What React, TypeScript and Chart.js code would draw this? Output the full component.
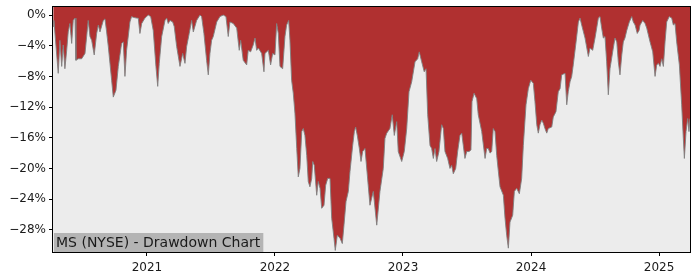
import React, { useEffect, useRef } from "react";
import { Chart, registerables } from "chart.js";

Chart.register(...registerables);

// Dates as decimal years (2021.0 = 1 Jan 2021)
const dateYears: number[] = [
  2020.268, 2020.273, 2020.307, 2020.320, 2020.334, 2020.346, 2020.359, 2020.373, 2020.385, 2020.398,
  2020.412, 2020.424, 2020.438, 2020.445, 2020.463, 2020.490, 2020.516, 2020.541, 2020.555, 2020.568,
  2020.588, 2020.607, 2020.620, 2020.633, 2020.659, 2020.672, 2020.685, 2020.698, 2020.724, 2020.737,
  2020.758, 2020.776, 2020.802, 2020.815, 2020.828, 2020.841, 2020.867, 2020.880, 2020.893, 2020.920,
  2020.932, 2020.945, 2020.959, 2020.984, 2021.010, 2021.029, 2021.049, 2021.070, 2021.084, 2021.096,
  2021.115, 2021.141, 2021.154, 2021.166, 2021.180, 2021.201, 2021.213, 2021.232, 2021.258, 2021.279,
  2021.297, 2021.310, 2021.330, 2021.349, 2021.362, 2021.388, 2021.414, 2021.427, 2021.445, 2021.466,
  2021.479, 2021.492, 2021.505, 2021.518, 2021.545, 2021.570, 2021.596, 2021.617, 2021.635, 2021.648,
  2021.674, 2021.701, 2021.721, 2021.732, 2021.752, 2021.779, 2021.791, 2021.810, 2021.830, 2021.844,
  2021.857, 2021.870, 2021.896, 2021.914, 2021.922, 2021.948, 2021.966, 2021.982, 2022.000, 2022.013,
  2022.026, 2022.039, 2022.060, 2022.078, 2022.091, 2022.107, 2022.117, 2022.130, 2022.143, 2022.156,
  2022.170, 2022.182, 2022.195, 2022.209, 2022.221, 2022.234, 2022.248, 2022.260, 2022.273, 2022.287,
  2022.295, 2022.307, 2022.326, 2022.338, 2022.352, 2022.365, 2022.383, 2022.396, 2022.412, 2022.430,
  2022.443, 2022.461, 2022.471, 2022.487, 2022.508, 2022.526, 2022.539, 2022.555, 2022.573, 2022.586,
  2022.607, 2022.620, 2022.630, 2022.643, 2022.659, 2022.672, 2022.685, 2022.703, 2022.742, 2022.768,
  2022.795, 2022.820, 2022.846, 2022.859, 2022.873, 2022.898, 2022.916, 2022.932, 2022.951, 2022.963,
  2022.990, 2023.010, 2023.029, 2023.047, 2023.068, 2023.094, 2023.115, 2023.127, 2023.146, 2023.166,
  2023.180, 2023.193, 2023.211, 2023.224, 2023.237, 2023.250, 2023.263, 2023.281, 2023.302, 2023.315,
  2023.328, 2023.349, 2023.367, 2023.380, 2023.393, 2023.412, 2023.427, 2023.445, 2023.459, 2023.471,
  2023.484, 2023.498, 2023.516, 2023.531, 2023.539, 2023.555, 2023.576, 2023.588, 2023.615, 2023.641,
  2023.654, 2023.666, 2023.680, 2023.693, 2023.705, 2023.719, 2023.732, 2023.745, 2023.758, 2023.784,
  2023.797, 2023.810, 2023.823, 2023.836, 2023.857, 2023.870, 2023.888, 2023.909, 2023.927, 2023.940,
  2023.961, 2023.979, 2023.998, 2024.018, 2024.031, 2024.045, 2024.057, 2024.070, 2024.084, 2024.096,
  2024.109, 2024.123, 2024.135, 2024.162, 2024.174, 2024.195, 2024.213, 2024.227, 2024.240, 2024.266,
  2024.279, 2024.291, 2024.305, 2024.318, 2024.330, 2024.352, 2024.370, 2024.383, 2024.396, 2024.422,
  2024.448, 2024.461, 2024.482, 2024.500, 2024.526, 2024.539, 2024.552, 2024.565, 2024.578, 2024.591,
  2024.604, 2024.617, 2024.638, 2024.656, 2024.670, 2024.682, 2024.695, 2024.709, 2024.721, 2024.734,
  2024.748, 2024.768, 2024.787, 2024.799, 2024.813, 2024.830, 2024.844, 2024.852, 2024.873, 2024.891,
  2024.904, 2024.930, 2024.951, 2024.969, 2024.982, 2024.995, 2025.008, 2025.021, 2025.034, 2025.047,
  2025.060, 2025.080, 2025.099, 2025.112, 2025.125, 2025.138, 2025.159, 2025.177, 2025.190, 2025.198,
  2025.211, 2025.224, 2025.234, 2025.242,
];

// Drawdown in percent
const drawdown: number[] = [
  -1.5, -0.7, -7.6, -3.3, -6.7, -3.9, -7.0, -4.6, -2.2, -1.1,
  -3.7, -0.7, -0.4, -5.9, -5.7, -5.7, -5.0, -0.7, -2.8, -3.3,
  -5.2, -2.4, -1.3, -2.2, -0.7, -0.5, -2.2, -4.1, -8.5, -10.7,
  -9.8, -6.7, -3.7, -3.5, -8.0, -4.6, -0.9, -0.2, -0.3, -0.4,
  -0.4, -2.4, -1.1, -0.4, 0.0, -0.2, -2.0, -6.7, -9.3, -6.3,
  -2.8, -0.7, -0.4, -1.1, -0.7, -0.9, -1.5, -4.1, -6.7, -5.0,
  -6.3, -4.1, -2.4, -0.7, -2.2, -0.7, 0.0, -0.2, -2.4, -5.9,
  -7.8, -5.0, -3.3, -2.8, -0.9, -0.2, 0.0, -0.2, -2.8, -0.9,
  -1.1, -1.7, -4.6, -3.3, -5.9, -6.5, -4.6, -4.8, -3.9, -3.0,
  -4.6, -4.3, -5.0, -7.4, -5.0, -4.6, -6.5, -5.0, -5.2, -1.1,
  -2.4, -6.7, -7.0, -2.8, -1.3, -0.7, -3.3, -8.5, -10.2, -12.8,
  -17.4, -21.1, -20.0, -15.2, -14.8, -15.7, -18.3, -21.7, -22.4, -21.3,
  -19.1, -19.6, -23.5, -21.7, -22.6, -25.2, -24.8, -22.2, -21.3, -21.3,
  -26.5, -29.1, -30.7, -28.7, -29.1, -29.8, -27.4, -24.3, -23.0, -20.4,
  -17.0, -15.2, -14.6, -15.7, -17.4, -19.1, -17.8, -17.4, -24.8, -23.0,
  -27.4, -23.0, -20.0, -16.1, -15.4, -14.8, -13.0, -15.7, -13.9, -17.8,
  -19.1, -17.8, -14.8, -10.0, -8.7, -6.1, -5.7, -4.8, -6.1, -7.4,
  -7.0, -13.0, -17.0, -17.4, -18.7, -17.4, -19.1, -17.8, -14.3, -14.8,
  -17.8, -18.7, -20.0, -19.6, -20.7, -20.0, -17.8, -15.7, -15.4, -17.0,
  -18.7, -17.8, -17.8, -17.6, -11.3, -10.2, -10.9, -13.0, -15.2, -18.7,
  -17.4, -17.4, -18.0, -17.8, -14.8, -15.2, -18.3, -20.4, -22.4, -23.5,
  -26.5, -28.7, -30.4, -27.0, -26.1, -23.0, -22.6, -23.3, -21.3, -17.0,
  -11.7, -9.6, -8.5, -8.9, -11.3, -14.3, -15.4, -14.3, -13.7, -14.1,
  -14.8, -15.4, -14.8, -14.6, -13.3, -12.6, -10.0, -9.6, -7.8, -7.6,
  -11.7, -10.0, -8.7, -8.0, -6.5, -3.5, -0.9, -0.4, -1.3, -3.0,
  -5.4, -4.3, -4.6, -3.0, -0.4, -0.2, -1.7, -3.0, -2.8, -6.1,
  -10.4, -7.0, -4.8, -3.0, -3.5, -6.1, -7.8, -5.2, -3.5, -3.0,
  -2.0, -0.9, -0.2, -0.9, -1.3, -2.4, -2.0, -1.3, -0.7, -1.1,
  -1.7, -3.5, -4.8, -8.0, -6.5, -6.3, -6.7, -5.7, -6.7, -3.5,
  -0.9, -0.2, -0.4, -1.3, -1.1, -3.5, -6.5, -11.7, -16.1, -18.7,
  -15.2, -13.5, -15.2, -13.5,
];

const xTickYears: number[] = [2021, 2022, 2023, 2024, 2025];
const yTickValues: number[] = [0, -4, -8, -12, -16, -20, -24, -28];
const chartLabel = "MS (NYSE) - Drawdown Chart";

const xMin = 2020.266;
const xMax = 2025.242;
const yMin = -30.9;
const yMax = 1.05;

export default function App() {
  const canvasRef = useRef<HTMLCanvasElement | null>(null);

  useEffect(() => {
    document.body.style.margin = "0";
    const canvas = canvasRef.current;
    if (!canvas) return;

    const framePlugin = {
      id: "frame",
      beforeDraw(chart: any) {
        const { ctx, chartArea: a } = chart;
        ctx.save();
        ctx.fillStyle = "#ffffff";
        ctx.fillRect(0, 0, chart.width, chart.height);
        ctx.fillStyle = "#ececec";
        ctx.fillRect(a.left, a.top, a.right - a.left, a.bottom - a.top);
        ctx.restore();
      },
      afterDatasetsDraw(chart: any) {
        const { ctx, chartArea: a } = chart;
        ctx.save();
        ctx.font = "14px 'DejaVu Sans'";
        const w = ctx.measureText(chartLabel).width;
        const boxH = 19;
        ctx.fillStyle = "#b4b4b4";
        ctx.fillRect(a.left + 1, a.bottom - boxH, w + 5, boxH);
        ctx.fillStyle = "#1a1a1a";
        ctx.textBaseline = "middle";
        ctx.textAlign = "left";
        ctx.fillText(chartLabel, a.left + 3, a.bottom - boxH / 2 + 0.5);
        ctx.strokeStyle = "#000000";
        ctx.lineWidth = 1;
        ctx.strokeRect(
          Math.round(a.left) - 0.5,
          Math.round(a.top) - 0.5,
          Math.round(a.right - a.left) + 1,
          Math.round(a.bottom - a.top) + 1
        );
        ctx.restore();
      },
    };

    const chart = new Chart(canvas, {
      type: "line",
      data: {
        datasets: [
          {
            data: dateYears.map((t, i) => ({ x: t, y: drawdown[i] })),
            borderColor: "rgba(128,128,128,0.9)",
            borderWidth: 1,
            backgroundColor: "#b03030",
            fill: "end",
            pointRadius: 0,
            tension: 0,
          },
        ],
      },
      options: {
        animation: false,
        responsive: false,
        events: [],
        layout: { padding: { top: 7, right: 10, left: 0, bottom: 0 } },
        plugins: {
          legend: { display: false },
          tooltip: { enabled: false },
        },
        scales: {
          x: {
            type: "linear",
            min: xMin,
            max: xMax,
            afterBuildTicks: (s: any) => {
              s.ticks = xTickYears.map((v) => ({ value: v }));
            },
            afterFit: (s: any) => {
              s.height = 28;
              s.paddingLeft = 0;
              s.paddingRight = 0;
            },
            ticks: {
              callback: (v: any) => String(v),
              font: { family: "'DejaVu Sans'", size: 12 },
              color: "#1a1a1a",
              padding: 5,
              maxRotation: 0,
              autoSkip: false,
            },
            grid: {
              drawOnChartArea: false,
              drawTicks: true,
              tickLength: 4,
              color: "#000000",
            },
            border: { display: false },
          },
          y: {
            type: "linear",
            min: yMin,
            max: yMax,
            afterBuildTicks: (s: any) => {
              s.ticks = yTickValues.map((v) => ({ value: v }));
            },
            afterFit: (s: any) => {
              s.width = 53;
              s.paddingTop = 0;
              s.paddingBottom = 0;
            },
            ticks: {
              callback: (v: any) => (v === 0 ? "0%" : "\u2212" + Math.abs(v) + "%"),
              font: { family: "'DejaVu Sans'", size: 12 },
              color: "#1a1a1a",
              padding: 3,
              autoSkip: false,
            },
            grid: {
              drawOnChartArea: false,
              drawTicks: true,
              tickLength: 4,
              color: "#000000",
            },
            border: { display: false },
          },
        },
      },
      plugins: [framePlugin],
    });

    return () => chart.destroy();
  }, []);

  return (
    <div style={{ width: 700, height: 280 }}>
      <canvas ref={canvasRef} width={700} height={280} style={{ display: "block" }} />
    </div>
  );
}
